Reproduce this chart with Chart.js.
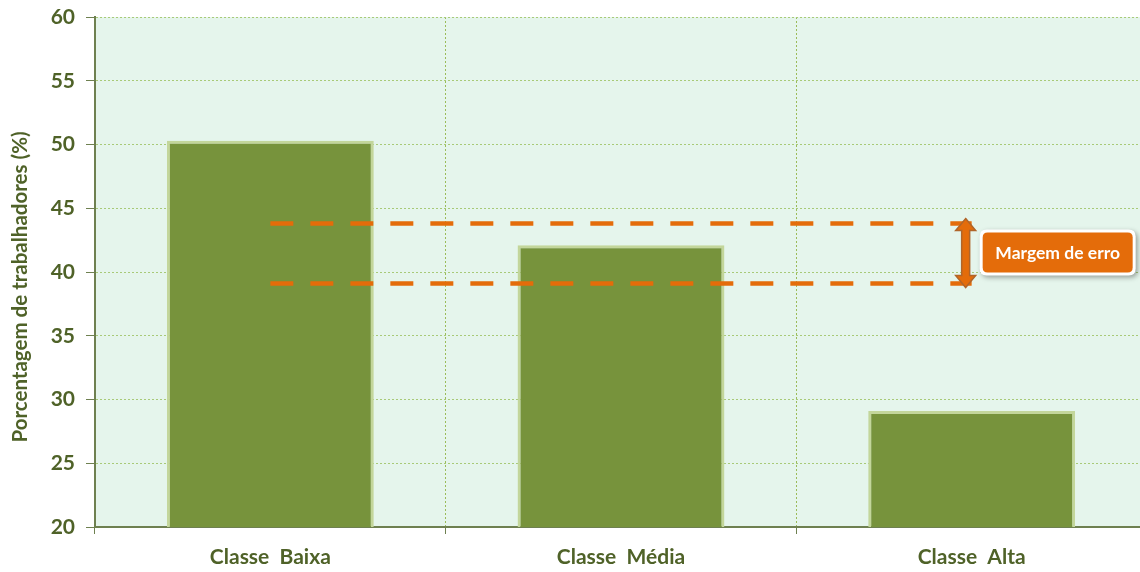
<!DOCTYPE html>
<html>
<head>
<meta charset="utf-8">
<script src="https://cdn.jsdelivr.net/npm/chart.js@4.4.1/dist/chart.umd.min.js"></script>
<style>
  html, body { margin: 0; padding: 0; background: #ffffff; overflow: hidden; width: 1140px; height: 572px; }
  #wrap { width: 1147px; height: 572px; }
</style>
</head>
<body>
<div id="wrap"><canvas id="c" width="1147" height="572"></canvas></div>
<script>
const categories = ['Classe  Baixa', 'Classe  Média', 'Classe  Alta'];
const shareValues = [50.3, 42.1, 29.1];
const marginUpper = [43.8, 43.8, 43.8];
const marginLower = [39.1, 39.1, 39.1];
const yTicks = [20, 25, 30, 35, 40, 45, 50, 55, 60];
const yTitle = 'Porcentagem de trabalhadores (%)';
const noteLabel = 'Margem de erro';

const FONT = "Lato, 'Open Sans', 'Liberation Sans', sans-serif";
const TEXT = '#4F6228';

const plotBg = {
  id: 'plotBg',
  beforeDraw(chart) {
    const { ctx, chartArea: a } = chart;
    ctx.save();
    ctx.fillStyle = '#E5F5EC';
    ctx.fillRect(a.left, a.top, a.right - a.left, a.bottom - a.top);
    ctx.restore();
  }
};

const yTitleDraw = {
  id: 'yTitleDraw',
  afterDraw(chart) {
    const { ctx, chartArea: a } = chart;
    ctx.save();
    ctx.translate(20, (a.top + a.bottom) / 2 + 15);
    ctx.rotate(-Math.PI / 2);
    ctx.fillStyle = TEXT;
    ctx.font = 'bold 20.5px ' + FONT;
    ctx.textAlign = 'center';
    ctx.textBaseline = 'middle';
    ctx.fillText(yTitle, 0, 0);
    ctx.restore();
  }
};

function roundRect(ctx, x, y, w, h, r) {
  ctx.beginPath();
  ctx.moveTo(x + r, y);
  ctx.lineTo(x + w - r, y);
  ctx.quadraticCurveTo(x + w, y, x + w, y + r);
  ctx.lineTo(x + w, y + h - r);
  ctx.quadraticCurveTo(x + w, y + h, x + w - r, y + h);
  ctx.lineTo(x + r, y + h);
  ctx.quadraticCurveTo(x, y + h, x, y + h - r);
  ctx.lineTo(x, y + r);
  ctx.quadraticCurveTo(x, y, x + r, y);
  ctx.closePath();
}

const marginNote = {
  id: 'marginNote',
  afterDatasetsDraw(chart) {
    const { ctx } = chart;
    const xs = chart.scales.x, ys = chart.scales.y;
    const cx = xs.getPixelForValue(2) - 6;
    const yTop = ys.getPixelForValue(marginUpper[2]) - 5;
    const yBot = ys.getPixelForValue(marginLower[2]) + 4;
    const head = 12, halfHead = 10, halfShaft = 4;
    ctx.save();
    ctx.beginPath();
    ctx.moveTo(cx, yTop);
    ctx.lineTo(cx + halfHead, yTop + head);
    ctx.lineTo(cx + halfShaft, yTop + head);
    ctx.lineTo(cx + halfShaft, yBot - head);
    ctx.lineTo(cx + halfHead, yBot - head);
    ctx.lineTo(cx, yBot);
    ctx.lineTo(cx - halfHead, yBot - head);
    ctx.lineTo(cx - halfShaft, yBot - head);
    ctx.lineTo(cx - halfShaft, yTop + head);
    ctx.lineTo(cx - halfHead, yTop + head);
    ctx.closePath();
    ctx.fillStyle = '#E46C0A';
    ctx.fill();
    ctx.lineWidth = 1.5;
    ctx.strokeStyle = '#B0652A';
    ctx.stroke();

    const midY = (ys.getPixelForValue(marginUpper[2]) + ys.getPixelForValue(marginLower[2])) / 2;
    const bx = cx + 14, bw = 156, bh = 46, by = midY - bh / 2 - 1;
    ctx.shadowColor = 'rgba(0,0,0,0.35)';
    ctx.shadowBlur = 5;
    ctx.shadowOffsetX = 2;
    ctx.shadowOffsetY = 2;
    roundRect(ctx, bx, by, bw, bh, 7);
    ctx.fillStyle = '#ffffff';
    ctx.fill();
    ctx.shadowColor = 'transparent';
    roundRect(ctx, bx + 3, by + 3, bw - 6, bh - 6, 5);
    ctx.fillStyle = '#E46C0A';
    ctx.fill();
    ctx.fillStyle = '#ffffff';
    ctx.font = 'bold 17.5px ' + FONT;
    ctx.textAlign = 'center';
    ctx.textBaseline = 'middle';
    ctx.fillText(noteLabel, bx + bw / 2, by + bh / 2 + 1);
    ctx.restore();
  }
};

new Chart(document.getElementById('c'), {
  data: {
    labels: categories,
    datasets: [
      {
        type: 'line', data: marginUpper, order: 0,
        borderColor: '#E46C0A', borderWidth: 4.5, borderDash: [23, 17],
        pointRadius: 0, fill: false
      },
      {
        type: 'line', data: marginLower, order: 0,
        borderColor: '#E46C0A', borderWidth: 4.5, borderDash: [23, 17],
        pointRadius: 0, fill: false
      },
      {
        type: 'bar', data: shareValues, order: 1,
        backgroundColor: '#77933C', borderColor: '#C3D69B', borderWidth: 3,
        barPercentage: 0.59, categoryPercentage: 1.0
      }
    ]
  },
  options: {
    responsive: false,
    animation: false,
    layout: { padding: { top: 17, right: 0, bottom: 0, left: 0 } },
    plugins: { legend: { display: false }, tooltip: { enabled: false } },
    scales: {
      x: {
        offset: true,
        grid: {
          offset: true, display: true, drawOnChartArea: true,
          color: '#9BBB59', lineWidth: 1, tickLength: 7, tickColor: '#6E8050'
        },
        border: { display: true, color: '#6E8050', width: 2, dash: [2, 2] },
        ticks: { color: TEXT, font: { family: FONT, size: 21, weight: 'bold' }, padding: 11 },
        afterFit(s) { s.height = 45; s.paddingLeft = 0; s.paddingRight = 0; }
      },
      y: {
        min: 20, max: 60,
        afterBuildTicks(s) { s.ticks = yTicks.map(v => ({ value: v })); },
        grid: { color: '#A8CA78', lineWidth: 1, tickLength: 9, tickColor: '#6E8050' },
        border: { display: true, color: '#6E8050', width: 2, dash: [2, 2] },
        ticks: { color: TEXT, font: { family: FONT, size: 21, weight: 'bold' }, padding: 11 },
        title: { display: false },
        afterFit(s) { s.width = 95; s.paddingTop = 0; s.paddingBottom = 0; }
      }
    }
  },
  plugins: [plotBg, marginNote, yTitleDraw]
});
</script>
</body>
</html>
